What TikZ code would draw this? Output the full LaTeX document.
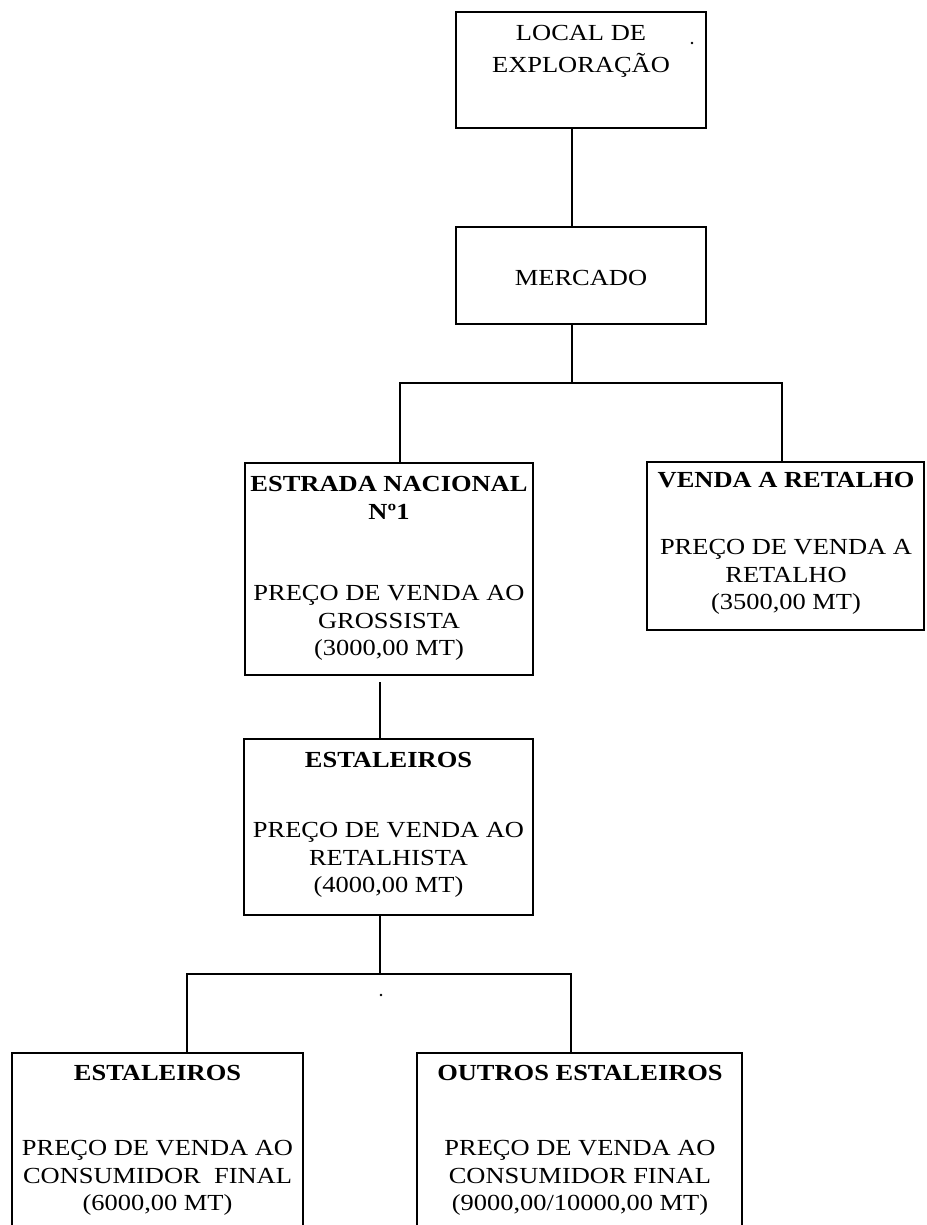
\documentclass[tikz,border=0pt]{standalone}
\usepackage{fontspec}
\setmainfont{Liberation Serif}[FakeStretch=1.15]
\begin{document}
\begin{tikzpicture}[x=1pt,y=-1pt,
  box/.style n args={2}{draw, line width=1.8pt, inner sep=0pt, minimum width=#1, minimum height=#2},
  txt/.style={align=center, inner sep=0pt, anchor=north, font=\fontsize{23}{27.5}\selectfont},
  conn/.style={line width=1.6pt},
  speck/.style={fill=black, draw=none, circle, inner sep=0pt, minimum size=2.6pt}]
\useasboundingbox (0,0) rectangle (926,1225);
\clip (0,0) rectangle (926,1225);
% boxes
\node[box={250pt}{116pt}] (b1) at (581,70) {};
\node[box={250pt}{97pt}] (b2) at (581,275.5) {};
\node[box={288pt}{212pt}] (b3) at (389,569) {};
\node[box={277pt}{168pt}] (b4) at (785.5,546) {};
\node[box={289pt}{176pt}] (b5) at (388.5,827) {};
\node[box={291pt}{190pt}] (b6) at (157.5,1148) {};
\node[box={325pt}{190pt}] (b7) at (579.5,1148) {};
% texts
\node[txt] (t1) at (581,25.5) {LOCAL DE\\[4.5pt]EXPLORAÇÃO};
\node[txt, anchor=center] (t2) at (581,278) {MERCADO};
\node[txt] (t3) at (389,476.5) {\textbf{ESTRADA NACIONAL}\\\textbf{Nº1}\\[54pt]PREÇO DE VENDA AO\\GROSSISTA\\(3000,00 MT)};
\node[txt] (t4) at (786,472.5) {\textbf{VENDA A RETALHO}\\[39.5pt]PREÇO DE VENDA A\\RETALHO\\(3500,00 MT)};
\node[txt] (t5) at (388.5,752.5) {\textbf{ESTALEIROS}\\[42.5pt]PREÇO DE VENDA AO\\RETALHISTA\\(4000,00 MT)};
\node[txt] (t6) at (157.5,1065.5) {\textbf{ESTALEIROS}\\[47.5pt]PREÇO DE VENDA AO\\CONSUMIDOR\ \ FINAL\\(6000,00 MT)};
\node[txt] (t7) at (580,1065.5) {\textbf{OUTROS ESTALEIROS}\\[47.5pt]PREÇO DE VENDA AO\\CONSUMIDOR FINAL\\(9000,00/10000,00 MT)};
% junctions
\coordinate (x1) at (572,0);
\coordinate (j1) at (572,383);
\coordinate (jl) at (400,383);
\coordinate (jr) at (782,383);
\coordinate (g1) at (380,682);
\coordinate (j2) at (380,974);
\coordinate (j2l) at (187,974);
\coordinate (j2r) at (571,974);
% connectors
\draw[conn] (b1.south -| x1) -- (b2.north -| x1);
\draw[conn] (b2.south -| x1) -- (j1);
\draw[conn] (b3.north -| jl) -- (jl) -- (jr) -- (b4.north -| jr);
\draw[conn] (g1) -- (b5.north -| g1);
\draw[conn] (b5.south -| g1) -- (j2);
\draw[conn] (b6.north -| j2l) -- (j2l) -- (j2r) -- (b7.north -| j2r);
% stray specks
\node[speck] (s1) at (692,43) {};
\node[speck] (s2) at (381,995) {};
\end{tikzpicture}
\end{document}
